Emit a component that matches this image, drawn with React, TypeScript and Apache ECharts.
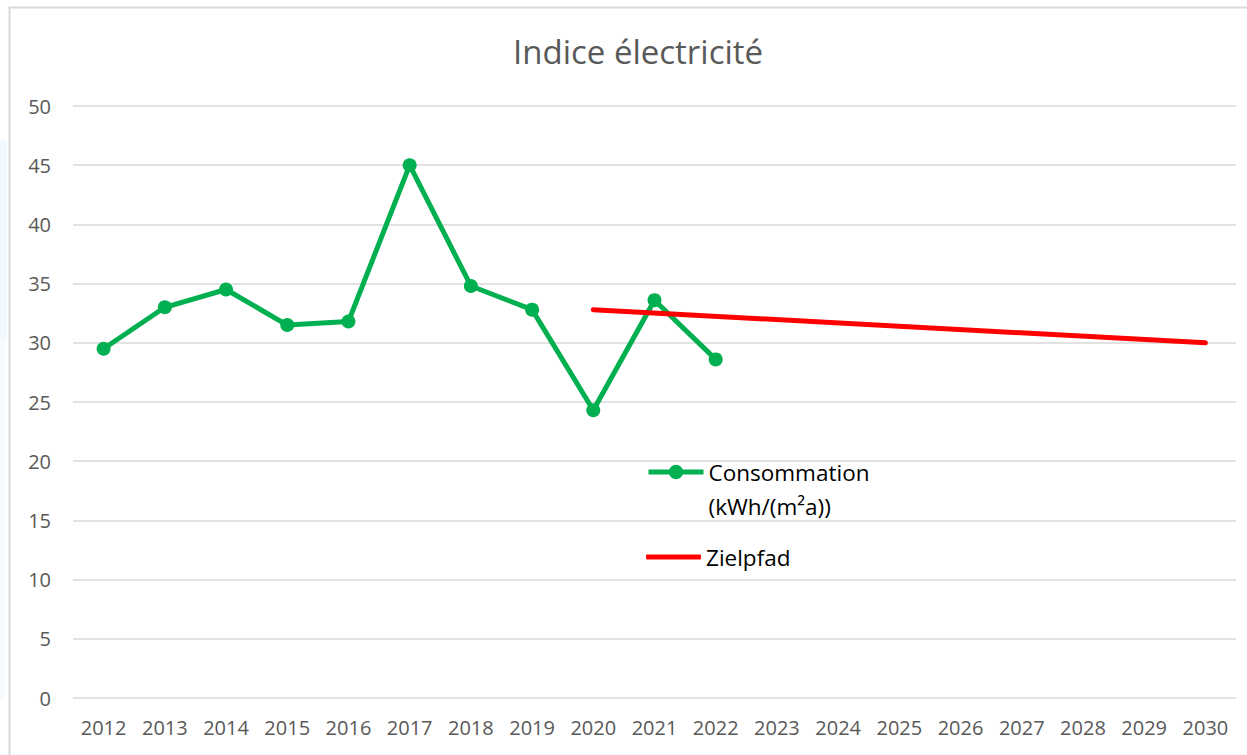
import React, { useEffect, useRef } from "react";
import * as echarts from "echarts";

const years = ["2012","2013","2014","2015","2016","2017","2018","2019","2020","2021","2022","2023","2024","2025","2026","2027","2028","2029","2030"];
const consommation = [29.5, 33.0, 34.5, 31.5, 31.8, 45.0, 34.8, 32.8, 24.3, 33.6, 28.6, null, null, null, null, null, null, null, null];
const zielpfad = [null, null, null, null, null, null, null, null, 32.8, null, null, null, null, null, null, null, null, null, 30.0];
const yTicks = { min: 0, max: 50, interval: 5 };

const FONT = "'Open Sans', 'Noto Sans', sans-serif";

export default function App() {
  const ref = useRef<HTMLDivElement>(null);
  useEffect(() => {
    if (!ref.current) return;
    const chart = echarts.init(ref.current, null, { renderer: "svg" });
    chart.setOption({
      animation: false,
      backgroundColor: "#ffffff",
      title: {
        text: "Indice électricité",
        left: 508,
        top: 30,
        textStyle: { fontFamily: FONT, fontSize: 33, fontWeight: "normal", color: "#595959" },
      },
      graphic: [
        { type: "rect", z: -1, shape: { x: 0, y: 140, width: 7, height: 200, r: 3 }, style: { fill: "#F0F7FD" } },
        { type: "rect", z: -1, shape: { x: 0, y: 340, width: 5, height: 360 }, style: { fill: "#F7FBFE" } },
        { type: "rect", z: -1, shape: { x: 9.5, y: 7.5, width: 1400, height: 1000 }, style: { fill: "none", stroke: "#D9D9D9", lineWidth: 2 } },
      ],
      legend: [
        {
          left: 641,
          top: 416,
          orient: "vertical",
          itemWidth: 55,
          itemHeight: 18,
          data: ["Consommation"],
          formatter: () => "\nConsommation\n(kWh/(m²a))",
          lineStyle: { width: 5 },
          textStyle: { fontFamily: FONT, fontSize: 22.5, color: "#000000", lineHeight: 34 },
        },
        {
          left: 641,
          top: 537,
          orient: "vertical",
          itemWidth: 55,
          itemHeight: 5,
          icon: "roundRect",
          data: ["Zielpfad"],
          textStyle: { fontFamily: FONT, fontSize: 22.5, color: "#000000", lineHeight: 30 },
        },
      ],
      grid: { left: 73, right: 11, top: 106, bottom: 57, containLabel: false },
      xAxis: {
        type: "category",
        data: years,
        boundaryGap: true,
        axisLine: { show: false },
        axisTick: { show: false },
        axisLabel: { fontFamily: FONT, fontSize: 20, color: "#595959", margin: 19 },
      },
      yAxis: {
        type: "value",
        min: yTicks.min,
        max: yTicks.max,
        interval: yTicks.interval,
        axisLine: { show: false },
        axisTick: { show: false },
        axisLabel: { fontFamily: FONT, fontSize: 20, color: "#595959", margin: 22 },
        splitLine: { lineStyle: { color: "#D9D9D9", width: 1.5 } },
      },
      series: [
        {
          name: "Consommation",
          type: "line",
          data: consommation,
          symbol: "circle",
          symbolSize: 14,
          itemStyle: { color: "#00B050" },
          lineStyle: { color: "#00B050", width: 5 },
          z: 3,
        },
        {
          name: "Zielpfad",
          type: "line",
          data: zielpfad,
          connectNulls: true,
          showSymbol: false,
          symbol: "none",
          itemStyle: { color: "#FF0000" },
          lineStyle: { color: "#FF0000", width: 5, cap: "round" },
          z: 4,
        },
      ],
    });
    return () => chart.dispose();
  }, []);
  return <div ref={ref} style={{ position: "fixed", left: 0, top: 0, width: 1247, height: 755 }} />;
}
